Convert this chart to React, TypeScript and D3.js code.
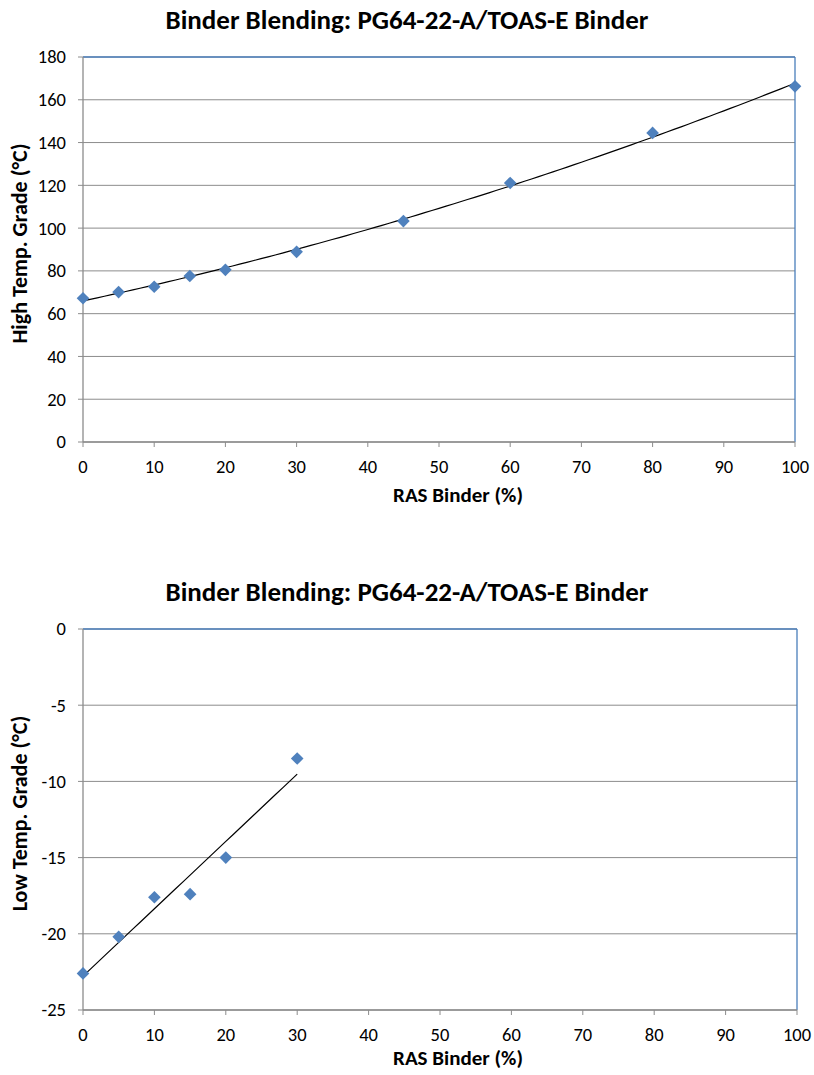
import React from "react";
import * as d3 from "d3";

const TITLE = "Binder Blending: PG64-22-A/TOAS-E Binder";
const X_LABEL = "RAS Binder (%)";

const highX = [0, 5, 10, 15, 20, 30, 45, 60, 80, 100];
const highY = [67.2, 70.1, 72.6, 77.6, 80.5, 88.9, 103.3, 121.1, 144.5, 166.3];
const highTicks = [0, 20, 40, 60, 80, 100, 120, 140, 160, 180];
const HIGH_Y_LABEL = "High Temp. Grade (°C)";

const lowX = [0, 5, 10, 15, 20, 30];
const lowY = [-22.6, -20.2, -17.6, -17.4, -15.0, -8.5];
const lowTicks = [-25, -20, -15, -10, -5, 0];
const LOW_Y_LABEL = "Low Temp. Grade (°C)";

const xTicks = [0, 10, 20, 30, 40, 50, 60, 70, 80, 90, 100];

const FONT = "Carlito, Calibri, Lato, 'Open Sans', sans-serif";
const BLUE = "#4A7EBB";
const MARK = "#4F81BD";
const GRID = "#8C8C8C";

function linearFit(xs: number[], ys: number[]) {
  const n = xs.length;
  const mx = d3.mean(xs)!;
  const my = d3.mean(ys)!;
  let sxy = 0, sxx = 0;
  for (let i = 0; i < n; i++) {
    sxy += (xs[i] - mx) * (ys[i] - my);
    sxx += (xs[i] - mx) ** 2;
  }
  const b = sxy / sxx;
  const a = my - b * mx;
  return (x: number) => a + b * x;
}

function quadFit(xs: number[], ys: number[]) {
  let s0 = 0, s1 = 0, s2 = 0, s3 = 0, s4 = 0, t0 = 0, t1 = 0, t2 = 0;
  for (let i = 0; i < xs.length; i++) {
    const x = xs[i], y = ys[i];
    s0 += 1; s1 += x; s2 += x * x; s3 += x ** 3; s4 += x ** 4;
    t0 += y; t1 += x * y; t2 += x * x * y;
  }
  const M = [
    [s0, s1, s2, t0],
    [s1, s2, s3, t1],
    [s2, s3, s4, t2],
  ];
  for (let i = 0; i < 3; i++) {
    let p = i;
    for (let r = i + 1; r < 3; r++) if (Math.abs(M[r][i]) > Math.abs(M[p][i])) p = r;
    [M[i], M[p]] = [M[p], M[i]];
    for (let r = 0; r < 3; r++) {
      if (r === i) continue;
      const f = M[r][i] / M[i][i];
      for (let c = i; c < 4; c++) M[r][c] -= f * M[i][c];
    }
  }
  const a = M[0][3] / M[0][0], b = M[1][3] / M[1][1], c = M[2][3] / M[2][2];
  return (x: number) => a + b * x + c * x * x;
}

type ChartProps = {
  top: number; bottom: number; left: number; right: number;
  yDomain: [number, number]; yTicks: number[]; yLabel: string;
  xs: number[]; ys: number[]; fit: (x: number) => number; fitMax: number;
  titleY: number; xLabelOffset: number;
};

function Chart(p: ChartProps) {
  const x = d3.scaleLinear().domain([0, 100]).range([p.left, p.right]);
  const y = d3.scaleLinear().domain(p.yDomain).range([p.bottom, p.top]);
  const fitPts = d3.range(0, p.fitMax + 0.001, 1).map((v) => [x(v), y(p.fit(v))] as [number, number]);
  const line = d3.line()(fitPts) || "";
  const diamond = d3.symbol(d3.symbolSquare, 80)() || "";
  const midY = (p.top + p.bottom) / 2;
  return (
    <g fontFamily={FONT}>
      <text x={407} y={p.titleY} textAnchor="middle" fontSize={27} fontWeight="bold" fill="#000">{TITLE}</text>
      {p.yTicks.map((t) => (
        <line key={"g" + t} x1={p.left} x2={p.right} y1={y(t)} y2={y(t)} stroke={GRID} strokeWidth={1} />
      ))}
      <line x1={p.left} x2={p.right} y1={p.top} y2={p.top} stroke={BLUE} strokeWidth={1.3} />
      <line x1={p.right} x2={p.right} y1={p.top} y2={p.bottom} stroke={BLUE} strokeWidth={1.3} />
      <line x1={p.left} x2={p.left} y1={p.top} y2={p.bottom} stroke={GRID} strokeWidth={1.3} />
      <line x1={p.left} x2={p.right} y1={p.bottom} y2={p.bottom} stroke={GRID} strokeWidth={1.3} />
      {p.yTicks.map((t) => (
        <g key={"y" + t}>
          <line x1={p.left - 5} x2={p.left} y1={y(t)} y2={y(t)} stroke={GRID} strokeWidth={1} />
          <text x={p.left - 17} y={y(t)} dy="0.35em" textAnchor="end" fontSize={18.5} fill="#000">{t}</text>
        </g>
      ))}
      {xTicks.map((t) => (
        <g key={"x" + t}>
          <line x1={x(t)} x2={x(t)} y1={p.bottom} y2={p.bottom + 5} stroke={GRID} strokeWidth={1} />
          <text x={x(t)} y={p.bottom + 25} dy="0.35em" textAnchor="middle" fontSize={18.5} fill="#000">{t}</text>
        </g>
      ))}
      <text x={458} y={p.bottom + p.xLabelOffset} dy="0.35em" textAnchor="middle" fontSize={21} fontWeight="bold" fill="#000">{X_LABEL}</text>
      <text transform={`translate(${19},${midY - 6}) rotate(-90)`} dy="0.35em" textAnchor="middle" fontSize={22} fontWeight="bold" fill="#000">{p.yLabel}</text>
      <path d={line} fill="none" stroke="#000" strokeWidth={1.2} />
      {p.xs.map((v, i) => (
        <path key={"m" + i} d={diamond} transform={`translate(${x(v)},${y(p.ys[i])}) rotate(45)`} fill={MARK} />
      ))}
    </g>
  );
}

export default function App() {
  const hiFit = quadFit(highX, highY);
  const loFit = linearFit(lowX, lowY);
  return (
    <svg width={814} height={1075} style={{ position: "absolute", left: 0, top: 0, background: "#fff" }}>
      <rect width={814} height={1075} fill="#fff" />
      <Chart top={57} bottom={442} left={83} right={795} yDomain={[0, 180]} yTicks={highTicks}
        yLabel={HIGH_Y_LABEL} xs={highX} ys={highY} fit={hiFit} fitMax={100} titleY={29} xLabelOffset={53} />
      <Chart top={629} bottom={1010} left={83} right={797} yDomain={[-25, 0]} yTicks={lowTicks}
        yLabel={LOW_Y_LABEL} xs={lowX} ys={lowY} fit={loFit} fitMax={30} titleY={601} xLabelOffset={48} />
    </svg>
  );
}
